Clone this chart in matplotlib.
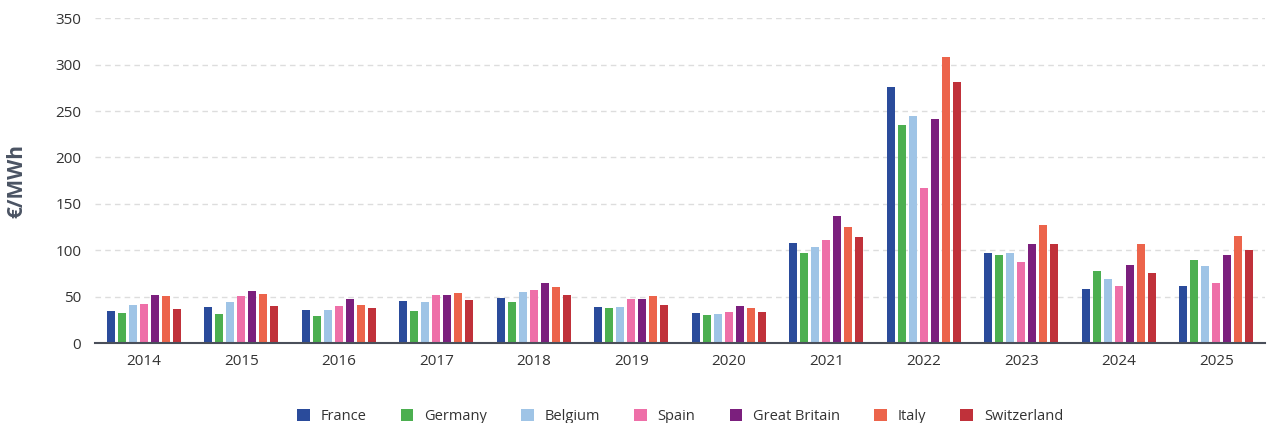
import matplotlib.pyplot as plt
import numpy as np

years = ["2014", "2015", "2016", "2017", "2018", "2019", "2020",
         "2021", "2022", "2023", "2024", "2025"]

france = [34, 38.5, 36, 45, 49, 38.5, 32, 108, 275.5, 96.5, 58, 61]
germany = [32, 31, 29, 34, 44, 37.5, 30, 96.5, 234.5, 94.5, 78, 89]
belgium = [40.5, 44, 36, 44, 55, 38.5, 31, 104, 244.5, 96.5, 69.5, 82.5]
spain = [42, 50.5, 39.5, 51.5, 57, 47, 33, 111.5, 167, 87, 62, 64.5]
great_britain = [51.5, 56, 48, 51.5, 64.5, 48, 39.5, 137, 241, 107, 84.5, 94.5]
italy = [50.5, 52.5, 41.5, 53.5, 60, 50.5, 37.5, 124.5, 308, 127.5, 107, 115.5]
switzerland = [36.5, 39.5, 37.5, 46, 51.5, 40.5, 33, 114.5, 281, 107, 75, 100.5]

countries = ["France", "Germany", "Belgium", "Spain", "Great Britain", "Italy", "Switzerland"]
series = [france, germany, belgium, spain, great_britain, italy, switzerland]
colors = ["#2a4b9b", "#4caf50", "#9fc4e6", "#ee6fa8", "#7b1f7d", "#ec644b", "#c0313a"]

plt.rcParams["font.family"] = ["Open Sans", "DejaVu Sans"]

fig = plt.figure(figsize=(12.69, 4.23), dpi=100)
ax = fig.add_axes([0.075, 0.189, 0.922, 0.768])

x = np.arange(len(years))
pitch = 0.113
width = 0.082
for i, (name, vals, col) in enumerate(zip(countries, series, colors)):
    offset = (i - 3) * pitch
    ax.bar(x + offset, vals, width=width, color=col, label=name, zorder=3)

ax.set_xlim(-0.5, len(years) - 0.5)
ax.set_ylim(0, 350)
ax.set_yticks(range(0, 351, 50))
ax.set_xticks(x)
ax.set_xticklabels(years)

ax.grid(axis="y", color="#dddddd", linestyle=(0, (4, 3)), linewidth=1, zorder=0)
for side in ["top", "right", "left"]:
    ax.spines[side].set_visible(False)
ax.spines["bottom"].set_color("#4a4f5a")
ax.spines["bottom"].set_linewidth(1.5)
ax.spines["bottom"].set_zorder(4)

ax.tick_params(axis="x", length=0, pad=8, labelsize=11, labelcolor="#333333")
ax.tick_params(axis="y", length=0, pad=10, labelsize=11, labelcolor="#333333")

ax.set_ylabel("€/MWh", fontsize=15, fontweight="bold", color="#4a5363", labelpad=20)

ax.legend(loc="upper center", bbox_to_anchor=(0.5, -0.163), ncol=7, frameon=False,
          fontsize=10.5, handlelength=0.85, handleheight=0.85, columnspacing=2.35,
          handletextpad=0.75, labelcolor="#333333")

fig.savefig("out.png", dpi=100)
plt.close(fig)
